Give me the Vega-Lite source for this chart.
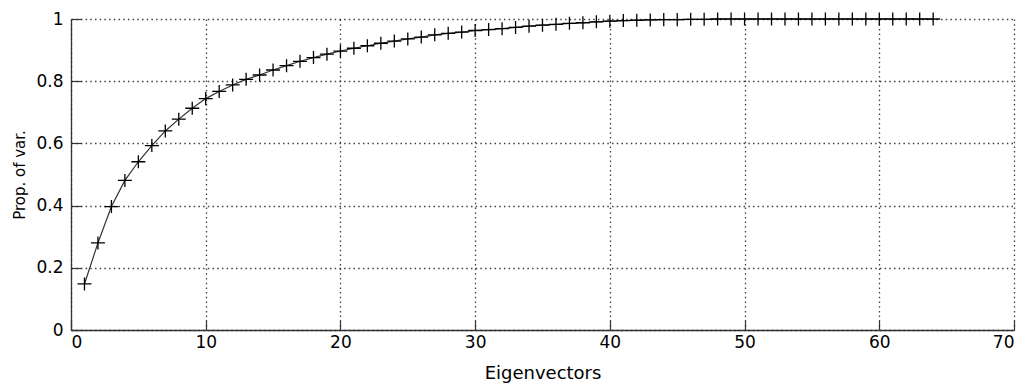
{
  "$schema": "https://vega.github.io/schema/vega-lite/v6.json",
  "width": 943,
  "height": 311,
  "autosize": {"type": "none"},
  "padding": {"left": 71, "top": 19, "right": 12, "bottom": 54},
  "background": "white",
  "config": {
    "view": {"stroke": null},
    "axis": {
      "labelFont": "DejaVu Sans",
      "labelFontSize": 17,
      "labelColor": "black",
      "titleFont": "DejaVu Sans",
      "titleFontWeight": "normal",
      "titleColor": "black",
      "domain": true,
      "domainColor": "#333",
      "domainWidth": 1.3,
      "tickColor": "#333",
      "tickWidth": 1.2,
      "gridColor": "black",
      "gridWidth": 1.3,
      "gridOpacity": 0.75
    }
  },
  "data": {
    "values": [
      {"n": 1, "p": 0.148}, {"n": 2, "p": 0.280}, {"n": 3, "p": 0.397}, {"n": 4, "p": 0.481},
      {"n": 5, "p": 0.541}, {"n": 6, "p": 0.593}, {"n": 7, "p": 0.640}, {"n": 8, "p": 0.678},
      {"n": 9, "p": 0.713}, {"n": 10, "p": 0.744}, {"n": 11, "p": 0.767}, {"n": 12, "p": 0.788},
      {"n": 13, "p": 0.806}, {"n": 14, "p": 0.820}, {"n": 15, "p": 0.836}, {"n": 16, "p": 0.850},
      {"n": 17, "p": 0.864}, {"n": 18, "p": 0.876}, {"n": 19, "p": 0.887}, {"n": 20, "p": 0.897},
      {"n": 21, "p": 0.906}, {"n": 22, "p": 0.914}, {"n": 23, "p": 0.922}, {"n": 24, "p": 0.929},
      {"n": 25, "p": 0.936}, {"n": 26, "p": 0.942}, {"n": 27, "p": 0.949}, {"n": 28, "p": 0.954},
      {"n": 29, "p": 0.958}, {"n": 30, "p": 0.963}, {"n": 31, "p": 0.966}, {"n": 32, "p": 0.969},
      {"n": 33, "p": 0.973}, {"n": 34, "p": 0.977}, {"n": 35, "p": 0.980}, {"n": 36, "p": 0.983},
      {"n": 37, "p": 0.986}, {"n": 38, "p": 0.988}, {"n": 39, "p": 0.991}, {"n": 40, "p": 0.993},
      {"n": 41, "p": 0.995}, {"n": 42, "p": 0.996}, {"n": 43, "p": 0.997}, {"n": 44, "p": 0.998},
      {"n": 45, "p": 0.998}, {"n": 46, "p": 0.999}, {"n": 47, "p": 0.999}, {"n": 48, "p": 1.0},
      {"n": 49, "p": 1.0}, {"n": 50, "p": 1.0}, {"n": 51, "p": 1.0}, {"n": 52, "p": 1.0},
      {"n": 53, "p": 1.0}, {"n": 54, "p": 1.0}, {"n": 55, "p": 1.0}, {"n": 56, "p": 1.0},
      {"n": 57, "p": 1.0}, {"n": 58, "p": 1.0}, {"n": 59, "p": 1.0}, {"n": 60, "p": 1.0},
      {"n": 61, "p": 1.0}, {"n": 62, "p": 1.0}, {"n": 63, "p": 1.0}, {"n": 64, "p": 1.0}
    ]
  },
  "layer": [
    {
      "mark": {"type": "line", "color": "#333", "strokeWidth": 1.2},
      "encoding": {
        "x": {
          "field": "n", "type": "quantitative",
          "scale": {"domain": [0, 70], "nice": false, "zero": false},
          "axis": {
            "title": "Eigenvectors", "titleFontSize": 18, "titlePadding": 14,
            "values": [0, 10, 20, 30, 40, 50, 60, 70],
            "grid": true, "gridDash": [1.5, 3.2],
            "ticks": true, "tickSize": -10, "labelPadding": 14
          }
        },
        "y": {
          "field": "p", "type": "quantitative",
          "scale": {"domain": [0, 1], "nice": false},
          "axis": {
            "title": "Prop. of var.", "titleFontSize": 15, "titlePadding": 8,
            "values": [0, 0.2, 0.4, 0.6, 0.8, 1],
            "format": "~g",
            "grid": true, "gridDash": [1.5, 3.2],
            "ticks": true, "tickSize": -10, "labelPadding": 18
          }
        }
      }
    },
    {
      "mark": {
        "type": "point",
        "shape": "M-1,0L1,0M0,-0.93L0,0.93",
        "size": 196,
        "stroke": "black",
        "strokeWidth": 1.3,
        "filled": false,
        "opacity": 1
      },
      "encoding": {
        "x": {"field": "n", "type": "quantitative"},
        "y": {"field": "p", "type": "quantitative"}
      }
    }
  ]
}
